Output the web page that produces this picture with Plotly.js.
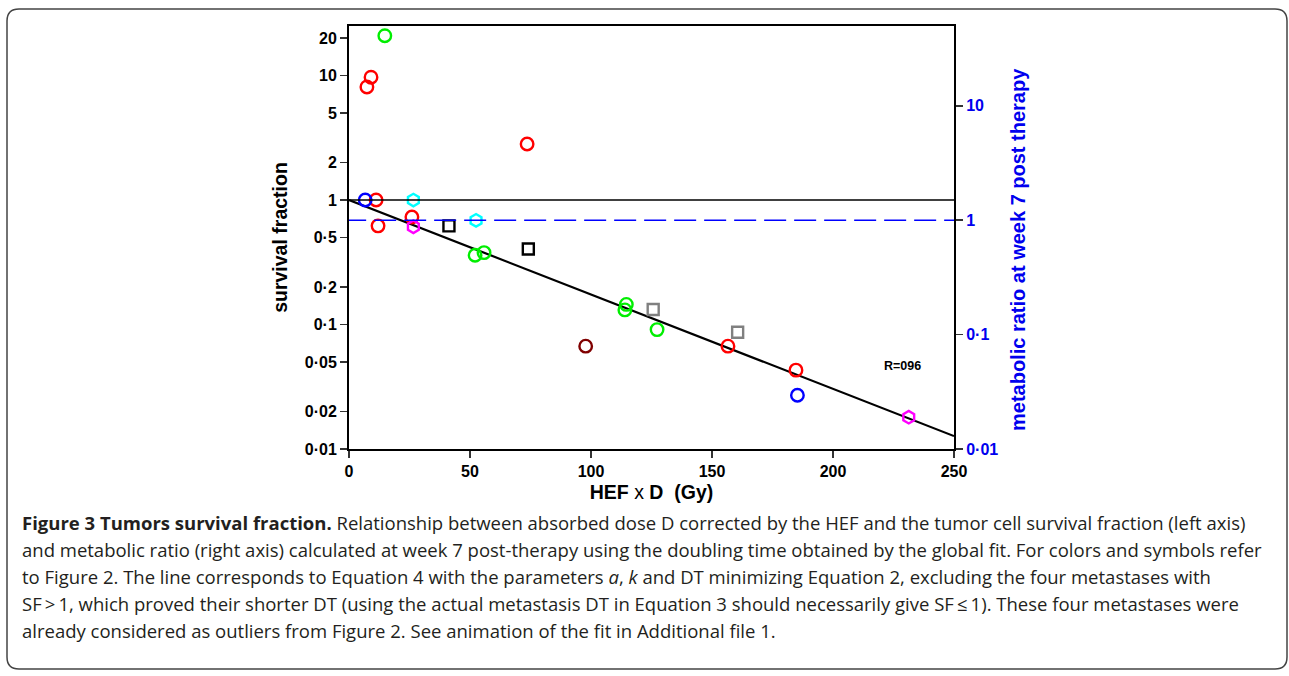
<!DOCTYPE html>
<html>
<head>
<meta charset="utf-8">
<script src="https://cdn.plot.ly/plotly-3.0.1.min.js"></script>
<style>
html,body{margin:0;padding:0;background:#fff;}
#chart{width:1289px;height:676px;}
</style>
</head>
<body>
<div id="chart"></div>
<script>
// ---- data ----
const redX = [7.4, 9.1, 11.2, 12.0, 26.0, 73.6, 156.6, 184.7];
const redY = [8.1, 9.7, 1.0, 0.62, 0.73, 2.82, 0.067, 0.043];
const greenX = [14.8, 52.1, 55.8, 114.6, 114.0, 127.3];
const greenY = [20.9, 0.36, 0.378, 0.145, 0.131, 0.091];
const blueX = [6.7, 185.3];
const blueY = [1.0, 0.027];
const brownX = [97.8];
const brownY = [0.067];
const cyanX = [26.6, 52.5];
const cyanY = [1.0, 0.687];
const magentaX = [26.6, 231.3];
const magentaY = [0.61, 0.018];
const blackSqX = [41.3, 74.1];
const blackSqY = [0.62, 0.404];
const graySqX = [125.7, 160.6];
const graySqY = [0.132, 0.0866];
const fitX = [0, 250];
const fitY = [1, 0.0127];

const leftTickVals = [0.01, 0.02, 0.05, 0.1, 0.2, 0.5, 1, 2, 5, 10, 20];
const leftTickText = ['0·01', '0·02', '0·05', '0·1', '0·2', '0·5', '1', '2', '5', '10', '20'];
const rightTickVals = [0.01, 0.1, 1, 10];
const rightTickText = ['0·01', '0·1', '1', '10'];
const xTickVals = [0, 50, 100, 150, 200, 250];

const captionLines = [
  '<b>Figure 3 Tumors survival fraction.</b> Relationship between absorbed dose D corrected by the HEF and the tumor cell survival fraction (left axis)',
  'and metabolic ratio (right axis) calculated at week 7 post-therapy using the doubling time obtained by the global fit. For colors and symbols refer',
  'to Figure 2. The line corresponds to Equation 4 with the parameters <i>a</i>, <i>k</i> and DT minimizing Equation 2, excluding the four metastases with',
  'SF\u2009>\u20091, which proved their shorter DT (using the actual metastasis DT in Equation 3 should necessarily give SF\u2009\u2264\u20091). These four metastases were',
  'already considered as outliers from Figure 2. See animation of the fit in Additional file 1.'
];

// ---- layout geometry ----
const W = 1289, H = 676;
const L = 349, R = 954, T = 26, B = 449;
const pw = R - L, ph = B - T;
const px = v => (v - L) / pw;
const py = v => (B - v) / ph;

function mk(x, y, color, symbol, size) {
  return {
    x: x, y: y, type: 'scatter', mode: 'markers', hoverinfo: 'skip',
    marker: {symbol: symbol, size: size, color: color, line: {color: color, width: 2.4}}
  };
}

const traces = [
  {x: fitX, y: fitY, type: 'scatter', mode: 'lines', line: {color: '#000', width: 2.2}, hoverinfo: 'skip'},
  mk(redX, redY, '#ff0000', 'circle-open', 12.5),
  mk(greenX, greenY, '#00ee00', 'circle-open', 12.5),
  mk(blueX, blueY, '#0000ff', 'circle-open', 12.5),
  mk(brownX, brownY, '#800000', 'circle-open', 12.5),
  mk(cyanX, cyanY, '#00ffff', 'hexagon-open', 12.5),
  mk(magentaX, magentaY, '#ff00ff', 'hexagon-open', 12.5),
  mk(blackSqX, blackSqY, '#000000', 'square-open', 11),
  mk(graySqX, graySqY, '#808080', 'square-open', 11),
  {x: [0], y: [1], yaxis: 'y2', type: 'scatter', mode: 'markers', marker: {opacity: 0}, hoverinfo: 'skip'}
];

// rounded border path in paper coords
const bl = px(7), br = px(1287), bt = py(9), bb = py(669);
const rx = 12 / pw, ry = 12 / ph;
const borderPath = `M ${bl + rx},${bt} L ${br - rx},${bt} Q ${br},${bt} ${br},${bt - ry} L ${br},${bb + ry} Q ${br},${bb} ${br - rx},${bb} L ${bl + rx},${bb} Q ${bl},${bb} ${bl},${bb + ry} L ${bl},${bt - ry} Q ${bl},${bt} ${bl + rx},${bt} Z`;

const annotations = captionLines.map((t, i) => ({
  text: t, xref: 'paper', yref: 'paper', x: px(20), y: py(522 + i * 27),
  xanchor: 'left', yanchor: 'middle', showarrow: false, align: 'left',
  font: {family: 'Open Sans', size: 18.5, color: '#231f20'}
}));
annotations.push({
  text: '<b>R=096</b>', xref: 'x', yref: 'y', x: 228.8, y: Math.log10(0.0467),
  showarrow: false, xanchor: 'center', yanchor: 'middle',
  font: {family: 'Liberation Sans', size: 12.5, color: '#000'}
});
annotations.push({
  text: '<b>metabolic ratio at week 7 post therapy</b>', xref: 'paper', yref: 'paper',
  x: px(1018), y: py(250), textangle: -90, showarrow: false, xanchor: 'center', yanchor: 'middle',
  font: {family: 'Liberation Sans', size: 20, color: '#0000ee'}
});

const axisFont = {family: 'Liberation Sans', size: 16, color: '#000', weight: 'bold'};

const layout = {
  width: W, height: H,
  margin: {l: L, r: W - R, t: T, b: H - B, pad: 0},
  paper_bgcolor: '#fff', plot_bgcolor: '#fff',
  showlegend: false,
  xaxis: {
    range: [0, 250], tickvals: xTickVals, ticks: 'outside', ticklen: 7, tickwidth: 1.5, tickcolor: '#333',
    showline: true, linecolor: '#000', linewidth: 2, mirror: true, showgrid: false, zeroline: false,
    tickfont: axisFont, fixedrange: true,
    title: {text: '<b>HEF</b> x <b>D\u00a0\u00a0(Gy)</b>', font: {family: 'Liberation Sans', size: 19.5, color: '#000'}, standoff: 6}
  },
  yaxis: {
    type: 'log', range: [-2, Math.log10(25)], tickvals: leftTickVals, ticktext: leftTickText,
    ticks: 'outside', ticklen: 7, tickwidth: 1.5, tickcolor: '#333',
    showline: true, linecolor: '#000', linewidth: 2, mirror: true, showgrid: false, zeroline: false,
    tickfont: axisFont, fixedrange: true,
    title: {text: '<b>survival fraction</b>', font: {family: 'Liberation Sans', size: 19.5, color: '#000'}, standoff: 12}
  },
  yaxis2: {
    type: 'log', range: [-2, 1.698], overlaying: 'y', side: 'right', anchor: 'x',
    tickvals: rightTickVals, ticktext: rightTickText,
    ticks: 'outside', ticklen: 7, tickwidth: 1.5, tickcolor: '#333',
    showline: true, linecolor: '#000', linewidth: 2, showgrid: false, zeroline: false,
    tickfont: {family: 'Liberation Sans', size: 16, color: '#0000ee', weight: 'bold'}, fixedrange: true
  },
  shapes: [
    {type: 'line', xref: 'x', yref: 'y', x0: 0, x1: 250, y0: 1, y1: 1, line: {color: '#000', width: 1.5}},
    {type: 'line', xref: 'x', yref: 'y2', x0: -2, x1: 250, y0: 1, y1: 1, line: {color: '#0000ff', width: 1.5, dash: '22px,8px'}},
    {type: 'path', xref: 'paper', yref: 'paper', path: borderPath, line: {color: '#444', width: 1.5}, layer: 'below'}
  ],
  annotations: annotations
};

Plotly.newPlot('chart', traces, layout, {staticPlot: true, displayModeBar: false});
</script>
</body>
</html>
